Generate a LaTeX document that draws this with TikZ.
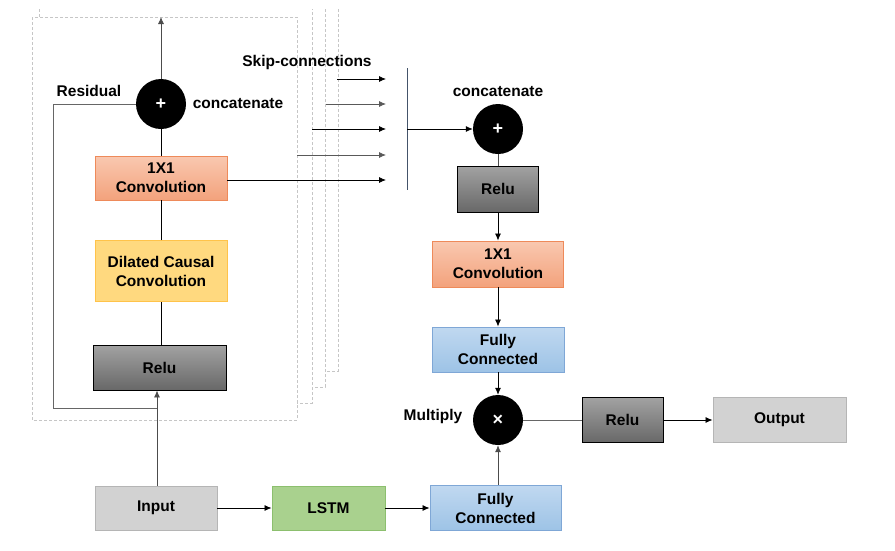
\documentclass[tikz,border=0pt]{standalone}
\usepackage{fontspec}
\setmainfont{Liberation Sans}
\usetikzlibrary{arrows.meta}
\definecolor{salB}{HTML}{EE8A5A}
\definecolor{salT}{HTML}{F9C8B0}
\definecolor{salD}{HTML}{F3A27C}
\definecolor{yelF}{HTML}{FFD97F}
\definecolor{yelB}{HTML}{FFC34A}
\definecolor{dkT}{HTML}{A2A2A2}
\definecolor{dkD}{HTML}{686868}
\definecolor{ltF}{HTML}{D2D2D2}
\definecolor{ltB}{HTML}{B5B5B5}
\definecolor{grF}{HTML}{A9D18E}
\definecolor{grB}{HTML}{8CBF6E}
\definecolor{blT}{HTML}{C0D8F0}
\definecolor{blD}{HTML}{9DC3E6}
\definecolor{blB}{HTML}{7FA7D6}
\definecolor{barC}{HTML}{44546A}
\tikzset{
  lbl/.style={font=\fontsize{15.5}{19}\selectfont\bfseries, align=center},
  blk/.style={lbl, inner sep=0pt, line width=0.9pt},
  salbox/.style={blk, draw=salB, top color=salT, bottom color=salD},
  yelbox/.style={blk, draw=yelB, fill=yelF},
  dkbox/.style={blk, draw=black, top color=dkT, bottom color=dkD},
  ltbox/.style={blk, draw=ltB, fill=ltF},
  grbox/.style={blk, draw=grB, fill=grF},
  blbox/.style={blk, draw=blB, top color=blT, bottom color=blD},
  opnode/.style={circle, fill=black, minimum size=50pt, inner sep=0pt, text=white, font=\fontsize{18}{18}\selectfont\bfseries},
  arr/.style={-{Latex[length=7pt,width=6pt]}, line width=0.8pt},
  ln/.style={line width=0.8pt},
  dln/.style={draw=gray!45, dash pattern=on 3pt off 2pt, line width=0.7pt}
}
\begin{document}
\begin{tikzpicture}[x=1pt,y=-1pt]
\useasboundingbox (0,0) rectangle (895,550);
% stacked dashed frames (back to front)
\fill[white] (64,9) rectangle (338,371);
\draw[dln] (64,9) -- (64,371) -- (338,371) -- (338,9);
\fill[white] (53,9) rectangle (325,387);
\draw[dln] (53,9) -- (53,387) -- (325,387) -- (325,9);
\fill[white] (39,9) rectangle (312,403);
\draw[dln] (39,9) -- (39,403) -- (312,403) -- (312,9);
\fill[white] (32,17) rectangle (297,420);
\draw[dln] (32,17) rectangle (297,420);
\coordinate (top) at (161,17);
% left column
\node[opnode] (plusL) at (161,104) {+};
\node[salbox, minimum width=132pt, minimum height=44pt] (convL) at (161,178) {1X1\\Convolution};
\node[yelbox, minimum width=132pt, minimum height=61pt] (dil) at (161,271) {Dilated Causal\\Convolution};
\node[dkbox, minimum width=133pt, minimum height=45pt] (reluL) at (159.5,367.5) {Relu};
\node[lbl] (resid) at (89,91) {Residual};
\node[lbl] (catL) at (238,104) {concatenate};
\node[lbl] (skip) at (307,62) {Skip-connections};
% bottom row
\node[ltbox, minimum width=122pt, minimum height=44pt] (input) at (156,508) {Input};
\node[grbox, minimum width=113pt, minimum height=44pt] (lstm) at (328.5,508) {LSTM};
\node[blbox, minimum width=131pt, minimum height=45pt] (fcB) at (495.5,508) {Fully\\Connected};
% right column
\node[lbl] (catR) at (498,92) {concatenate};
\node[opnode] (plusR) at (498,129) {+};
\node[dkbox, minimum width=81pt, minimum height=46pt] (reluR) at (498,189) {Relu};
\node[salbox, minimum width=131pt, minimum height=46pt] (convR) at (498,264) {1X1\\Convolution};
\node[blbox, minimum width=132pt, minimum height=45pt] (fcT) at (498,349.5) {Fully\\Connected};
\node[opnode] (mult) at (498,420) {×};
\node[lbl] (multl) at (433,416) {Multiply};
\node[dkbox, minimum width=81pt, minimum height=45pt] (relu2) at (622.5,420) {Relu};
\node[ltbox, minimum width=133pt, minimum height=45pt] (out) at (779.5,420) {Output};
% vertical bar
\coordinate (barT) at (407,68);
\coordinate (barB) at (407,190);
\draw[barC, line width=1pt] (barT) -- (barB);
\coordinate (barM) at (407,129);
% skip arrows
\coordinate (s1) at (337,79);  \coordinate (e1) at (386,79);
\coordinate (s2) at (326,104); \coordinate (e2) at (386,104);
\coordinate (s3) at (312,129); \coordinate (e3) at (386,129);
\coordinate (s4) at (297,155); \coordinate (e4) at (386,155);
\coordinate (e5) at (386,180);
\draw[arr] (s1) -- (e1);
\draw[arr, draw=black!65] (s2) -- (e2);
\draw[arr] (s3) -- (e3);
\draw[arr, draw=black!65] (s4) -- (e4);
\draw[arr] (convL.east |- e5) -- (e5);
\draw[arr] (barM) -- (plusR.west);
% left column connectors
\draw[arr, draw=black!70] (plusL.north) -- (top);
\draw[ln] (convL.north) -- (plusL.south);
\draw[ln] (dil.north) -- (convL.south);
\draw[ln] (reluL.north -| dil.south) -- (dil.south);
\coordinate (rc) at (157,408);
\draw[ln, draw=black!60] (plusL.west) -| (53,408) -- (rc);
\draw[arr, draw=black!70] (input.north -| rc) -- (rc |- reluL.south);
% right column connectors
\draw[ln, draw=black!70] (plusR.south) -- (reluR.north);
\draw[arr] (reluR.south) -- (convR.north);
\draw[arr] (convR.south) -- (fcT.north);
\draw[arr] (fcT.south) -- (mult.north);
\draw[arr, draw=black!70] (fcB.north -| mult.south) -- (mult.south);
\draw[ln, draw=black!60] (mult.east) -- (relu2.west);
\draw[arr] (relu2.east) -- (out.west);
% bottom connectors
\draw[arr] (input.east) -- (lstm.west);
\draw[arr] (lstm.east) -- (fcB.west);
\end{tikzpicture}
\end{document}
